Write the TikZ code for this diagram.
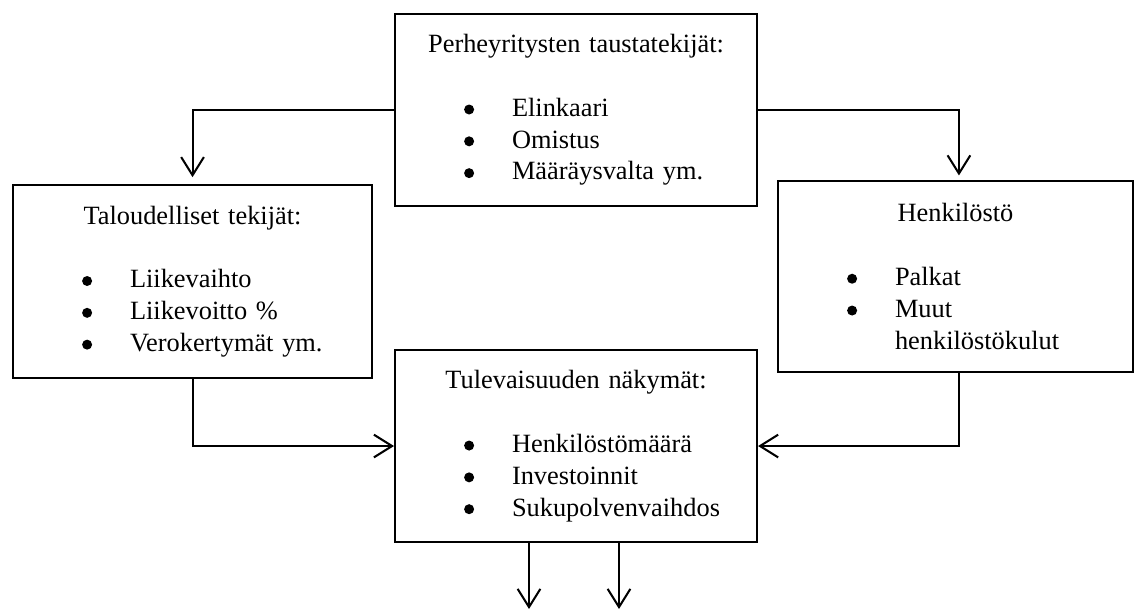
\documentclass[tikz,border=0pt]{standalone}
\usepackage{fontspec}
\setmainfont{Liberation Serif}
\usetikzlibrary{arrows.meta}
\newcommand{\otsikko}[1]{{\centering #1\par}\vspace{14pt}}
\newcommand{\pallo}{\tikz[baseline=-3pt]\fill (0,0) circle (2.2pt);}
\newcommand{\kohta}[1]{\par\hspace*{30.4pt}\makebox[21.08pt][l]{\pallo}#1}
\tikzset{
    laatikko/.style 2 args={draw, line width=0.9pt, inner sep=0pt, anchor=north west,
        text width=#1, minimum height=#2, align=left,
        font=\fontsize{11.6pt}{14pt}\selectfont},
    nuoli/.style={line width=0.9pt, -{Straight Barb[length=8pt,width=10pt]}},
}

\begin{document}
\begin{tikzpicture}[x=0.44pt,y=-0.44pt]
\useasboundingbox (0,0) rectangle (1138,610);
\node[laatikko={159.28pt}{84.48pt}] (tausta) at (394,13) {\otsikko{Perheyritysten taustatekijät:}\kohta{Elinkaari}\kohta{Omistus}\kohta{Määräysvalta ym.}};
\node[laatikko={157.96pt}{84.92pt}] (talous) at (12,184) {\otsikko{Taloudelliset tekijät:}\kohta{Liikevaihto}\kohta{Liikevoitto \%}\kohta{Verokertymät ym.}};
\node[laatikko={156.2pt}{84.04pt}] (henki) at (777,180) {\otsikko{Henkilöstö}\kohta{Palkat}\kohta{Muut}\par\hspace*{51.48pt}henkilöstökulut};
\node[laatikko={159.28pt}{84.48pt}] (tulevat) at (394,349) {\otsikko{Tulevaisuuden näkymät:}\kohta{Henkilöstömäärä}\kohta{Investoinnit}\kohta{Sukupolvenvaihdos}};
\coordinate (alas1) at (529,609);
\coordinate (alas2) at (619,609);
\draw[nuoli] (tausta.west) -| ([yshift=3pt]talous.north);
\draw[nuoli] (tausta.east) -| ([xshift=1.5pt,yshift=2pt]henki.north);
\draw[nuoli] (talous.south) |- (tulevat.west);
\draw[nuoli] ([xshift=1.5pt]henki.south) |- (tulevat.east);
\draw[nuoli] (alas1 |- tulevat.south) -- (alas1);
\draw[nuoli] (alas2 |- tulevat.south) -- (alas2);
\end{tikzpicture}
\end{document}
